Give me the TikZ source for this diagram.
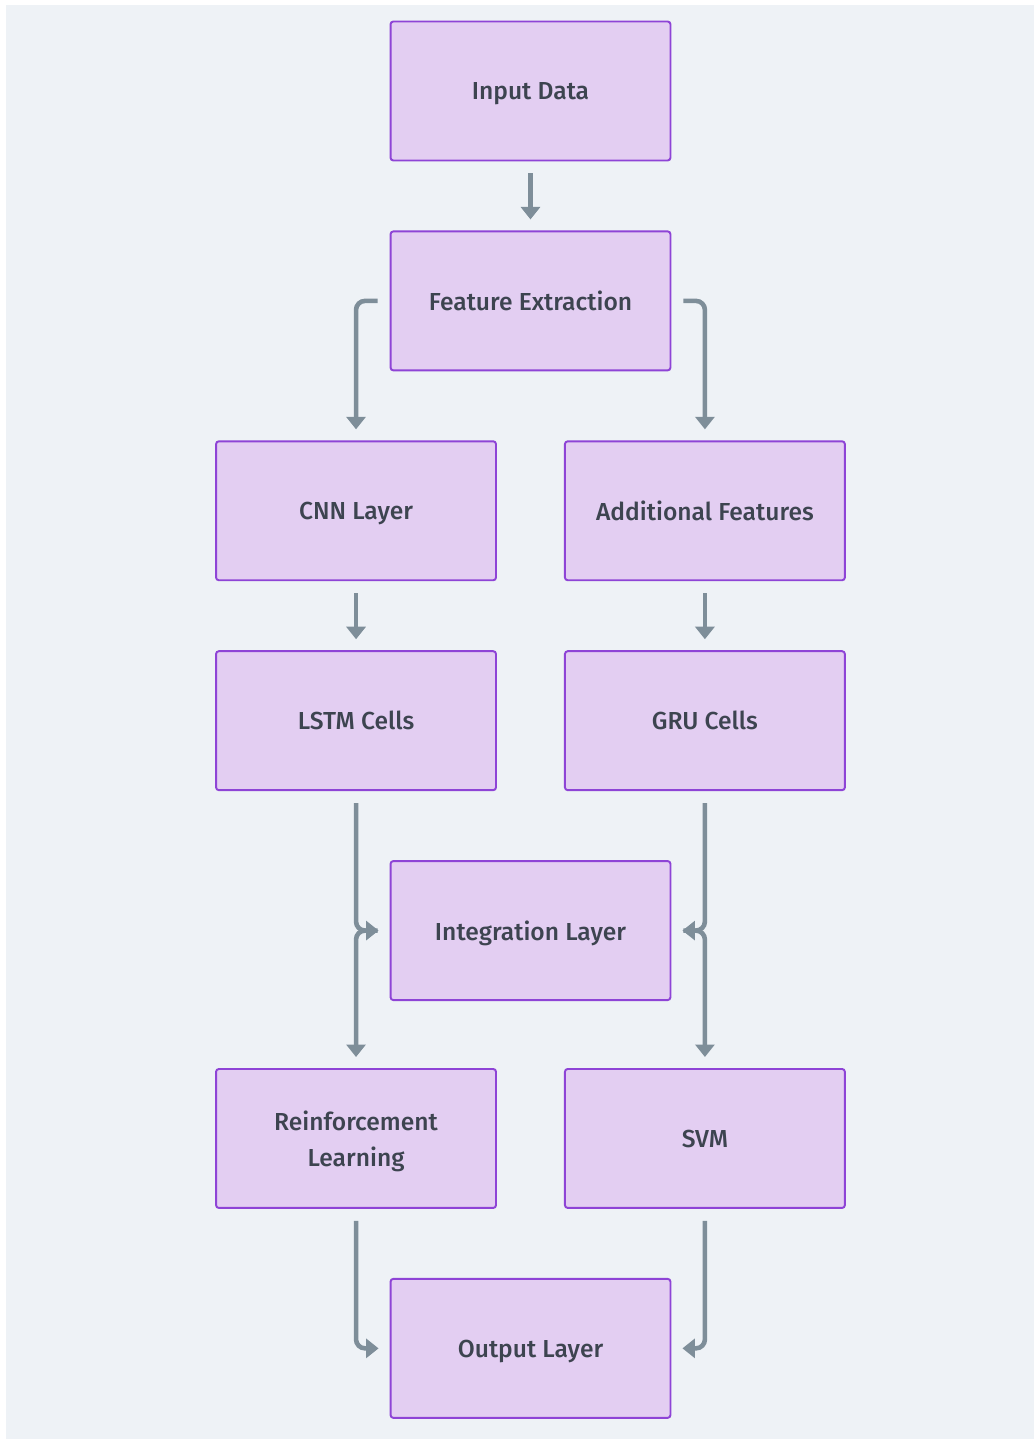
\documentclass[tikz,border=0pt]{standalone}
\usepackage{fontspec}
\setmainfont{Fira Sans}[UprightFont={* Medium}]
\usepackage{tikz}
\usetikzlibrary{arrows.meta,positioning}
\usepackage{xcolor}
\definecolor{boxfill}{HTML}{E3CEF2}
\definecolor{boxline}{HTML}{8E44D6}
\definecolor{txtcol}{HTML}{3D4450}
\definecolor{arrcol}{HTML}{7E8E99}
\definecolor{bgcol}{HTML}{EEF2F6}

\begin{document}
\begin{tikzpicture}[x=0.02cm,y=-0.02cm,node distance=1.38cm,>={Triangle[length=0.25cm,width=0.38cm]}, every node/.style={font=\fontsize{14}{20.5}\selectfont, text=txtcol}]
\tikzstyle{blk}=[draw=boxline, line width=1.1pt, rounded corners=1.6pt, minimum width=5.6cm, minimum height=2.78cm, text depth=0pt, align=center, fill=boxfill]
\tikzstyle{flow}=[->, draw=arrcol, line width=2.6pt, rounded corners=0.18cm, shorten <=0.24cm, shorten >=0.22cm]
\useasboundingbox (0,0) rectangle (1034,1439);
\fill[white] (0,0) rectangle (1034,1439);
\fill[bgcol] (6,5) rectangle (1034,1439);
\node[blk] (in) at (530.5,91) {Input Data};
\node[blk,below=of in] (fe) {Feature Extraction};
\node[blk,below=of fe,xshift=-3.49cm] (cnn) {CNN Layer};
\node[blk,right=1.34cm of cnn] (add) {Additional Features};
\node[blk,below=of cnn] (lstm) {LSTM Cells};
\node[blk,below=of add] (gru) {GRU Cells};
\node[blk,below=of lstm,xshift=3.49cm] (int) {Integration Layer};
\node[blk,below=1.34cm of lstm|-int.south] (rl) {Reinforcement\\Learning};
\node[blk,below=1.34cm of gru|-int.south] (svm) {SVM};
\node[blk,below=of rl,xshift=3.49cm] (out) {Output Layer};
\draw[flow] (in)--(fe);
\draw[flow] (fe.west) -| (cnn.north);
\draw[flow] (fe.east) -| (add.north);
\draw[flow] (cnn)--(lstm); \draw[flow] (add)--(gru);
\draw[flow] (lstm.south) |- (int.west);
\draw[flow] (gru.south) |- (int.east);
\draw[flow] (int.west) -| (rl.north);
\draw[flow] (int.east) -| (svm.north);
\draw[flow] (rl.south) |- (out.west);
\draw[flow] (svm.south) |- (out.east);
\end{tikzpicture}
\end{document}
